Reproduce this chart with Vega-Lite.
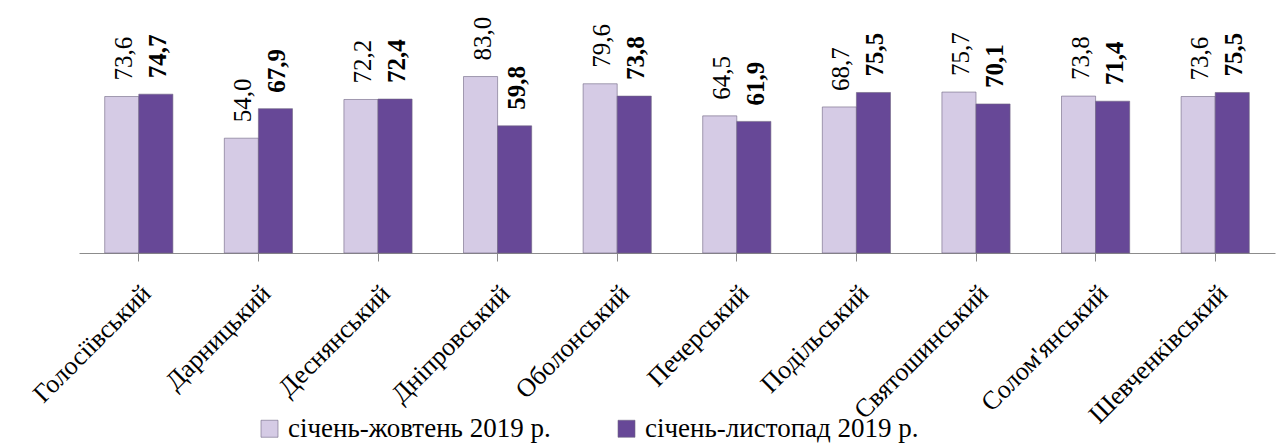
{
  "$schema": "https://vega.github.io/schema/vega-lite/v6.json",
  "width": 1196,
  "height": 253,
  "autosize": {"type": "none"},
  "padding": {"left": 79, "top": 0, "right": 8, "bottom": 192},
  "config": {
    "font": "Liberation Serif, DejaVu Serif, serif",
    "view": {"stroke": null},
    "locale": {"number": {"decimal": ",", "thousands": " ", "grouping": [3], "currency": ["", ""]}}
  },
  "data": {
    "values": [
      {"district": "Голосіївський", "period": "січень-жовтень 2019 р.", "value": 73.6},
      {"district": "Голосіївський", "period": "січень-листопад 2019 р.", "value": 74.7},
      {"district": "Дарницький", "period": "січень-жовтень 2019 р.", "value": 54.0},
      {"district": "Дарницький", "period": "січень-листопад 2019 р.", "value": 67.9},
      {"district": "Деснянський", "period": "січень-жовтень 2019 р.", "value": 72.2},
      {"district": "Деснянський", "period": "січень-листопад 2019 р.", "value": 72.4},
      {"district": "Дніпровський", "period": "січень-жовтень 2019 р.", "value": 83.0},
      {"district": "Дніпровський", "period": "січень-листопад 2019 р.", "value": 59.8},
      {"district": "Оболонський", "period": "січень-жовтень 2019 р.", "value": 79.6},
      {"district": "Оболонський", "period": "січень-листопад 2019 р.", "value": 73.8},
      {"district": "Печерський", "period": "січень-жовтень 2019 р.", "value": 64.5},
      {"district": "Печерський", "period": "січень-листопад 2019 р.", "value": 61.9},
      {"district": "Подільський", "period": "січень-жовтень 2019 р.", "value": 68.7},
      {"district": "Подільський", "period": "січень-листопад 2019 р.", "value": 75.5},
      {"district": "Святошинський", "period": "січень-жовтень 2019 р.", "value": 75.7},
      {"district": "Святошинський", "period": "січень-листопад 2019 р.", "value": 70.1},
      {"district": "Солом'янський", "period": "січень-жовтень 2019 р.", "value": 73.8},
      {"district": "Солом'янський", "period": "січень-листопад 2019 р.", "value": 71.4},
      {"district": "Шевченківський", "period": "січень-жовтень 2019 р.", "value": 73.6},
      {"district": "Шевченківський", "period": "січень-листопад 2019 р.", "value": 75.5}
    ]
  },
  "encoding": {
    "x": {
      "field": "district",
      "type": "nominal",
      "sort": null,
      "scale": {"paddingInner": 0.43, "paddingOuter": 0.215},
      "axis": {
        "title": null,
        "labelFont": "Liberation Serif, DejaVu Serif, serif",
        "labelAngle": -45,
        "labelAlign": "right",
        "labelBaseline": "middle",
        "labelFontSize": 26,
        "labelColor": "#000000",
        "labelPadding": 28,
        "labelOffset": 8,
        "labelLimit": 400,
        "tickSize": 8,
        "tickColor": "#8c8c8c",
        "domainColor": "#8c8c8c",
        "labelOverlap": false
      }
    },
    "xOffset": {"field": "period", "type": "nominal", "sort": null},
    "y": {
      "field": "value",
      "type": "quantitative",
      "scale": {"domain": [0, 119]},
      "axis": null
    }
  },
  "layer": [
    {
      "mark": {"type": "bar", "stroke": "#6e6482", "strokeWidth": 0.6},
      "encoding": {
        "color": {
          "field": "period",
          "type": "nominal",
          "sort": null,
          "scale": {"range": ["#d5cbe5", "#674897"]},
          "legend": {
            "title": null,
            "orient": "none",
            "direction": "horizontal",
            "legendX": 177,
            "legendY": 415,
            "padding": 0,
            "symbolType": "square",
            "symbolSize": 289,
            "symbolStrokeWidth": 0.6,
            "symbolStrokeColor": "#6e6482",
            "labelFont": "Liberation Serif, DejaVu Serif, serif",
            "labelFontSize": 27,
            "labelColor": "#000000",
            "labelOffset": 5,
            "columnPadding": 62,
            "labelLimit": 500
          }
        }
      }
    },
    {
      "transform": [{"filter": "datum.period == 'січень-жовтень 2019 р.'"}],
      "mark": {"type": "text", "angle": 270, "align": "left", "baseline": "middle", "dx": 16, "dy": 2, "fontSize": 25, "color": "#000000"},
      "encoding": {"text": {"field": "value", "type": "quantitative", "format": ".1f"}}
    },
    {
      "transform": [{"filter": "datum.period == 'січень-листопад 2019 р.'"}],
      "mark": {"type": "text", "angle": 270, "align": "left", "baseline": "middle", "dx": 16, "dy": 2, "fontSize": 25, "fontWeight": "bold", "color": "#000000"},
      "encoding": {"text": {"field": "value", "type": "quantitative", "format": ".1f"}}
    }
  ]
}
